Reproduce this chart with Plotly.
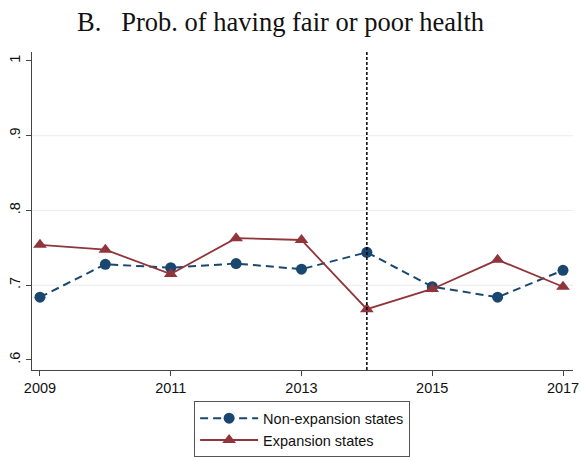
import plotly.graph_objects as go

# Survey years and yearly shares reporting fair or poor health
years = [2009, 2010, 2011, 2012, 2013, 2014, 2015, 2016, 2017]
non_expansion = [0.684, 0.728, 0.7235, 0.729, 0.7215, 0.744, 0.698, 0.684, 0.720]
expansion = [0.754, 0.7475, 0.715, 0.763, 0.7605, 0.668, 0.695, 0.734, 0.698]

x_ticks = [2009, 2011, 2013, 2015, 2017]
y_ticks = [0.6, 0.7, 0.8, 0.9, 1.0]
y_tick_labels = [".6", ".7", ".8", ".9", "1"]
grid_values = [0.7, 0.8, 0.9]
policy_year = 2014

NAVY = "#1a476f"
MAROON = "#90353b"
SANS = "Liberation Sans, Arial, sans-serif"

fig = go.Figure()

fig.add_trace(go.Scatter(
    x=years, y=non_expansion, name="Non-expansion states",
    mode="lines+markers",
    line=dict(color=NAVY, width=2, dash="8px,5px"),
    marker=dict(symbol="circle", size=11, color=NAVY),
))
fig.add_trace(go.Scatter(
    x=years, y=expansion, name="Expansion states",
    mode="lines+markers",
    line=dict(color=MAROON, width=1.8),
    marker=dict(symbol="triangle-up", size=12, color=MAROON),
))

# light horizontal grid at interior ticks
for g in grid_values:
    fig.add_shape(type="line", xref="paper", x0=0, x1=1, yref="y", y0=g, y1=g,
                  line=dict(color="#ececec", width=1), layer="below")

# vertical marker for the expansion year
fig.add_shape(type="line", xref="x", x0=policy_year, x1=policy_year,
              yref="paper", y0=0, y1=1,
              line=dict(color="black", width=1.5, dash="3px,2px"))

fig.update_layout(
    width=581, height=457,
    margin=dict(l=32, r=8, t=52, b=87, autoexpand=False),
    paper_bgcolor="white", plot_bgcolor="white",
    font=dict(family=SANS, size=14, color="#111"),
    title=dict(
        text="B.\u00a0\u00a0 Prob. of having fair or poor health",
        font=dict(family="Liberation Serif, Times New Roman, serif", size=26.5, color="#111"),
        xref="container", x=0.483, xanchor="center",
        yref="container", y=0.952, yanchor="middle",
    ),
    showlegend=True,
    legend=dict(
        orientation="v", xref="container", x=0.52, xanchor="center",
        yref="container", y=0.122, yanchor="top",
        bordercolor="#555", borderwidth=1, bgcolor="white",
        font=dict(family=SANS, size=14.5, color="#111"),
        itemwidth=58, tracegroupgap=0,
    ),
)

fig.update_xaxes(
    range=[2008.878, 2017.153], tickvals=x_ticks,
    ticks="outside", ticklen=5, tickcolor="#444", tickwidth=1,
    showline=True, linecolor="#444", linewidth=1,
    showgrid=False, zeroline=False,
    tickfont=dict(family=SANS, size=14.5, color="#111"),
)
fig.update_yaxes(
    range=[0.5866, 1.012], tickvals=y_ticks, ticktext=y_tick_labels,
    tickangle=-90,
    ticks="outside", ticklen=5, tickcolor="#444", tickwidth=1,
    showline=True, linecolor="#444", linewidth=1,
    showgrid=False, zeroline=False,
    tickfont=dict(family=SANS, size=14.5, color="#111"),
)

fig.write_html("out.html")
